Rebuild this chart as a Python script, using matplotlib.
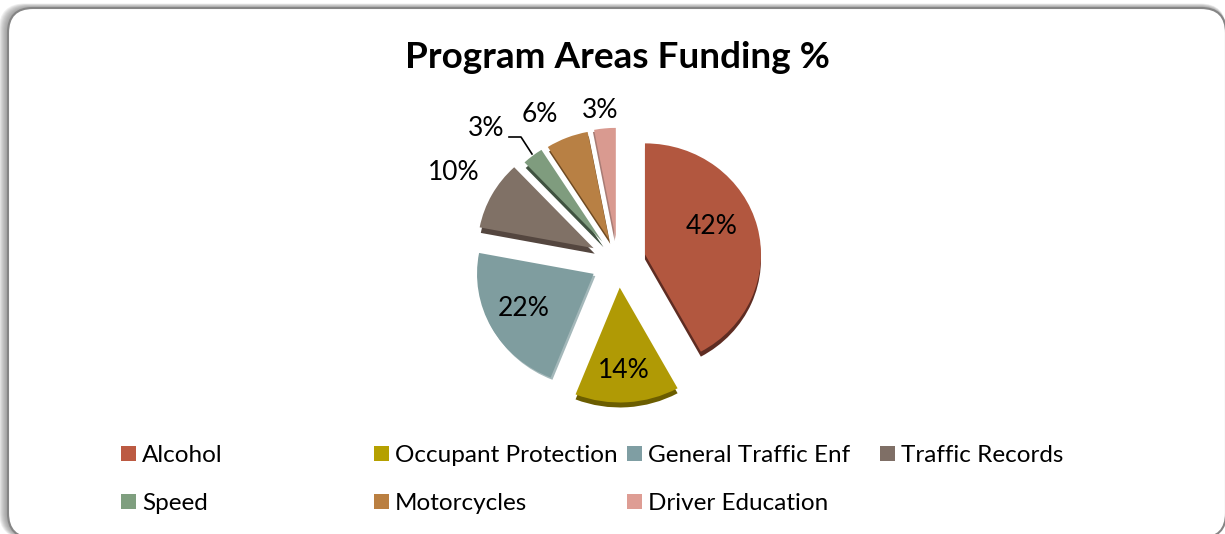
import matplotlib
matplotlib.use("Agg")
import matplotlib.pyplot as plt
import matplotlib.patches as patches

categories = ["Alcohol", "Occupant Protection", "General Traffic Enf", "Traffic Records",
              "Speed", "Motorcycles", "Driver Education"]
funding_pct = [42, 14, 22, 10, 3, 6, 3]

colors = ["#B2573F", "#B09A05", "#7F9D9F", "#807166", "#7F9C7E", "#B88044", "#D99A90"]
legend_colors = ["#BC5A42", "#B5A000", "#7F9EA3", "#7F6F66", "#7F9F7F", "#BA7F41", "#DE9D94"]
side_colors = ["#5E2C22", "#6B5D00", "#A4B8BA", "#54463F", "#3F5240", "#6E4A22", "#A87C75"]

W, H = 1225, 534
plt.rcParams["font.family"] = ["Lato", "DejaVu Sans"]


def pixel_axes(fig, zorder):
    a = fig.add_axes([0, 0, 1, 1], zorder=zorder)
    a.set_xlim(0, W)
    a.set_ylim(H, 0)
    a.axis("off")
    return a


fig = plt.figure(figsize=(W / 100, H / 100), dpi=100)
bg = pixel_axes(fig, 0)
ax = pixel_axes(fig, 2)

# soft shadow round the frame, then the frame itself
for i in range(9, 0, -1):
    left, top = 8 - i * 1.0, 8 - i * 0.5
    bg.add_patch(patches.FancyBboxPatch((left, top), 1226 - left, 538 - top,
                                        boxstyle="round,pad=0,rounding_size=26",
                                        fc="#707070", ec="none", alpha=0.11))
bg.add_patch(patches.FancyBboxPatch((8, 8), 1218, 530,
                                    boxstyle="round,pad=0,rounding_size=25",
                                    fc="white", ec="#858585", lw=1.5))

ax.text(617.5, 58, "Program Areas Funding %", fontsize=26.6, fontweight="bold",
        ha="center", va="center", color="black")

# pie lives in its own axes, squashed a little for the tilted look
rx, ry = 116, 111
cx, cy = 618, 261
span = 1.5
pie_ax = fig.add_axes([(cx - span * rx) / W, 1 - (cy + span * ry) / H,
                       2 * span * rx / W, 2 * span * ry / H], zorder=1)
explode = [0.24, 0.24, 0.24, 0.24, 0.22, 0.21, 0.20]
radii = [1.0, 1.035, 1.005, 1.0, 0.98, 0.985, 1.0]
pie_kw = dict(explode=explode, startangle=90, counterclock=False, radius=1)

side, _ = pie_ax.pie(funding_pct, colors=side_colors, **pie_kw)
offsets = [(0, -0.045), (0, -0.045), (0.015, -0.02), (0.01, -0.05),
           (0.01, -0.05), (0.01, -0.04), (-0.01, -0.02)]
for w, (dx, dy), r in zip(side, offsets, radii):
    c = w.center
    w.set_center((c[0] + dx, c[1] + dy))
    w.set_radius(r)

wedges, _, autotexts = pie_ax.pie(funding_pct, colors=colors, autopct="%.0f%%", **pie_kw)
for w, r in zip(wedges, radii):
    w.set_radius(r)
pie_ax.set_aspect("auto")
pie_ax.set_xlim(-span, span)
pie_ax.set_ylim(-span, span)
pie_ax.axis("off")

# data labels sit where the original chart has them
label_pos = [(712, 227), (624, 370), (524, 308), (454, 173), (486, 129), (540, 115), (600, 110)]
for t, (px, py) in zip(autotexts, label_pos):
    t.set_transform(ax.transData)
    t.set_position((px, py))
    t.set_fontsize(19)
    t.set_color("black")
    t.set_ha("center")
    t.set_va("center")
    t.set_clip_on(False)

ax.plot([509, 521, 532], [137, 137, 154], color="black", lw=1.2, zorder=5)

# legend, fixed columns like the spreadsheet one
col_x = [121, 374, 627, 880]
row_y = [446, 494]
for i, (name, col) in enumerate(zip(categories, legend_colors)):
    x = col_x[i % 4]
    y = row_y[i // 4]
    ax.add_patch(patches.Rectangle((x, y), 15, 15, fc=col, ec="none"))
    ax.text(x + 21, y + 10, name, fontsize=17.5, va="center", ha="left", color="black")

fig.savefig("out.png", dpi=100)
